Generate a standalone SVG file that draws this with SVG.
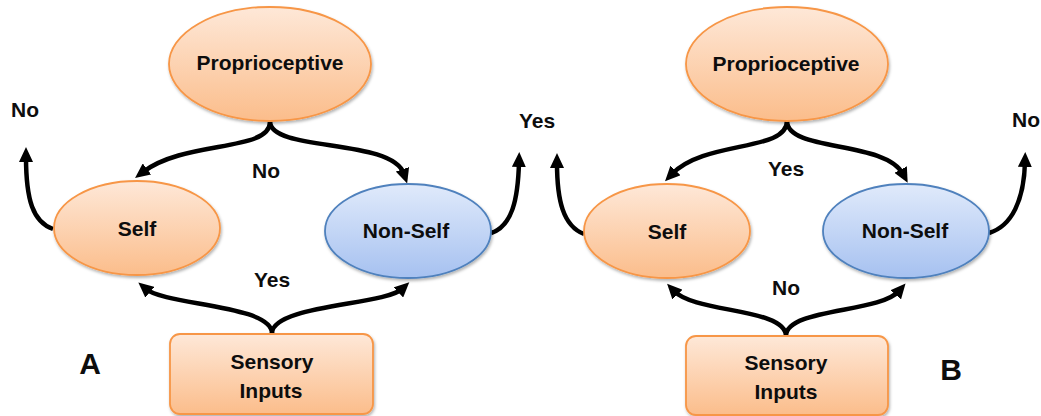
<svg xmlns="http://www.w3.org/2000/svg" width="1041" height="416" viewBox="0 0 1041 416">
  <style>
    text { font-family: "Liberation Sans", Arial, sans-serif; font-weight: bold; fill: #0d0d0d; text-anchor: middle; }
    .node { font-size: 21px; }
    .lbl { font-size: 21px; }
    .panel { font-size: 30px; }
    .orange { fill: url(#gOrange); stroke: #f79646; stroke-width: 1.8; filter: url(#shadow); }
    .blue { fill: url(#gBlue); stroke: #4f81bd; stroke-width: 1.8; filter: url(#shadow); }
    .conn { fill: none; stroke: #000; stroke-width: 4.5; marker-end: url(#arrow); }
  </style>
  <defs>
    <linearGradient id="gOrange" x1="0" y1="0" x2="0" y2="1">
      <stop offset="0" stop-color="#fee8d8"/>
      <stop offset="1" stop-color="#fbbd8b"/>
    </linearGradient>
    <linearGradient id="gBlue" x1="0" y1="0" x2="0" y2="1">
      <stop offset="0" stop-color="#e0eafb"/>
      <stop offset="1" stop-color="#a6c1f0"/>
    </linearGradient>
    <filter id="shadow" x="-10%" y="-10%" width="125%" height="130%">
      <feDropShadow dx="1" dy="2" stdDeviation="1.5" flood-color="#000" flood-opacity="0.3"/>
    </filter>
    <marker id="arrow" viewBox="0 0 15 14" refX="5" refY="7" markerWidth="15" markerHeight="14" markerUnits="userSpaceOnUse" orient="auto">
      <path d="M0,0 L15,7 L0,14 z" fill="#000"/>
    </marker>
  </defs>

  <!-- connectors -->
  <g id="connectors">
    <!-- panel A -->
    <path class="conn" d="M270,122 C270,152 185,140 143,172"/>
    <path class="conn" d="M270,122 C272,152 392,138 404,174"/>
    <path class="conn" d="M272,333 C271,305 165,305 146,289"/>
    <path class="conn" d="M272,333 C273,305 385,305 402,289"/>
    <path class="conn" d="M53,229 C33,222 26,200 26,157"/>
    <path class="conn" d="M491,233 C512,226 518,200 519,162"/>
    <!-- panel B -->
    <path class="conn" d="M787,121 C787,152 705,140 672,174"/>
    <path class="conn" d="M787,121 C787,152 885,140 903,174"/>
    <path class="conn" d="M786,336 C786,308 695,313 674,291"/>
    <path class="conn" d="M786,336 C786,308 880,313 899,291"/>
    <path class="conn" d="M584,234 C563,226 557,200 557,163"/>
    <path class="conn" d="M989,233 C1012,226 1024,200 1025,162"/>
  </g>

  <!-- panel A nodes -->
  <g id="a-proprioceptive">
    <ellipse class="orange" cx="270" cy="64" rx="101" ry="57"/>
    <text class="node" x="270" y="70">Proprioceptive</text>
  </g>
  <g id="a-self">
    <ellipse class="orange" cx="137" cy="228" rx="83" ry="47"/>
    <text class="node" x="137" y="236">Self</text>
  </g>
  <g id="a-nonself">
    <ellipse class="blue" cx="408" cy="231" rx="83" ry="47"/>
    <text class="node" x="406" y="238">Non-Self</text>
  </g>
  <g id="a-sensory">
    <rect class="orange" x="170" y="334" width="203" height="80" rx="10"/>
    <text class="node" x="272" y="369">Sensory</text>
    <text class="node" x="271" y="398">Inputs</text>
  </g>

  <!-- panel B nodes -->
  <g id="b-proprioceptive">
    <ellipse class="orange" cx="787" cy="64" rx="101" ry="57"/>
    <text class="node" x="786" y="71">Proprioceptive</text>
  </g>
  <g id="b-self">
    <ellipse class="orange" cx="667" cy="231" rx="83" ry="47"/>
    <text class="node" x="667" y="239">Self</text>
  </g>
  <g id="b-nonself">
    <ellipse class="blue" cx="906" cy="231" rx="83" ry="47"/>
    <text class="node" x="905" y="238">Non-Self</text>
  </g>
  <g id="b-sensory">
    <rect class="orange" x="686" y="336" width="202" height="79" rx="10"/>
    <text class="node" x="786" y="370">Sensory</text>
    <text class="node" x="786" y="399">Inputs</text>
  </g>

  <!-- branch labels -->
  <g id="labels">
    <text class="lbl" x="25" y="117">No</text>
    <text class="lbl" x="266" y="178">No</text>
    <text class="lbl" x="272" y="287">Yes</text>
    <text class="lbl" x="537" y="128">Yes</text>
    <text class="lbl" x="786" y="176">Yes</text>
    <text class="lbl" x="786" y="295">No</text>
    <text class="lbl" x="1026" y="127">No</text>
    <text class="panel" x="90" y="374">A</text>
    <text class="panel" x="951" y="380">B</text>
  </g>
</svg>
